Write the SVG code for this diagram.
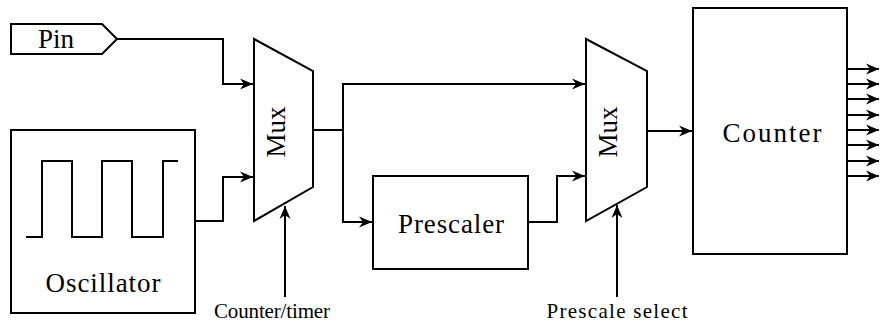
<svg xmlns="http://www.w3.org/2000/svg" width="880" height="324" viewBox="0 0 880 324">
<defs>
<marker id="ah" markerUnits="userSpaceOnUse" markerWidth="14" markerHeight="12" refX="13" refY="6" orient="auto" overflow="visible">
<path d="M0,0.5 L13,6 L0,11.5 L4,6 z" fill="#000"/>
</marker>
<style>
.s{fill:#fff;stroke:#000;stroke-width:2}
.w{fill:none;stroke:#000;stroke-width:2}
.c{fill:none;stroke:#000;stroke-width:2;marker-end:url(#ah)}
text{font-family:"Liberation Serif","Times New Roman",serif;fill:#000}
.b{font-size:27px;text-anchor:middle}
.l{font-size:21px;text-anchor:middle}
</style>
</defs>
<g id="connectors">
<polyline class="c" points="117,39 223,39 223,84 253,84"/>
<polyline class="c" points="195,221 223,221 223,177 253,177"/>
<polyline class="w" points="313,130 343,130"/>
<polyline class="c" points="343,130 343,84 585,84"/>
<polyline class="c" points="343,130 343,222 372,222"/>
<polyline class="c" points="528,222 557,222 557,176 585,176"/>
<polyline class="c" points="647,131 692,131"/>
<polyline class="c" points="285,297 285,206"/>
<polyline class="c" points="617,297 617,205"/>
<g id="counter-outputs">
<polyline class="c" points="847,69 879,69"/>
<polyline class="c" points="847,84 879,84"/>
<polyline class="c" points="847,99 879,99"/>
<polyline class="c" points="847,115 879,115"/>
<polyline class="c" points="847,130 879,130"/>
<polyline class="c" points="847,145 879,145"/>
<polyline class="c" points="847,161 879,161"/>
<polyline class="c" points="847,176 879,176"/>
</g>
</g>
<g id="pin">
<polygon class="s" points="11,24 102,24 117,39 102,54 11,54"/>
<text class="b" x="56" y="48">Pin</text>
</g>
<g id="oscillator">
<rect class="s" x="11" y="130" width="184" height="183"/>
<polyline class="w" points="26,237 42,237 42,161 72,161 72,237 102,237 102,161 132,161 132,237 163,237 163,161 178,161"/>
<text class="b" x="103" y="292" textLength="115" lengthAdjust="spacing">Oscillator</text>
</g>
<g id="mux1">
<polygon class="s" points="254,39 313,71 313,187 254,221"/>
<text class="b" transform="translate(285,132) rotate(-90)">Mux</text>
</g>
<g id="prescaler">
<rect class="s" x="373" y="176" width="155" height="93"/>
<text class="b" x="451" y="233" textLength="106" lengthAdjust="spacing">Prescaler</text>
</g>
<g id="mux2">
<polygon class="s" points="586,39 647,71 647,187 586,221"/>
<text class="b" transform="translate(617,132) rotate(-90)">Mux</text>
</g>
<g id="counter">
<rect class="s" x="693" y="8" width="154" height="246"/>
<text class="b" x="772" y="142" textLength="99" lengthAdjust="spacing">Counter</text>
</g>
<g id="label-counter-timer">
<text class="l" x="272" y="318" textLength="116" lengthAdjust="spacing">Counter/timer</text>
</g>
<g id="label-prescale-select">
<text class="l" x="617" y="318" textLength="141" lengthAdjust="spacing">Prescale select</text>
</g>
</svg>
